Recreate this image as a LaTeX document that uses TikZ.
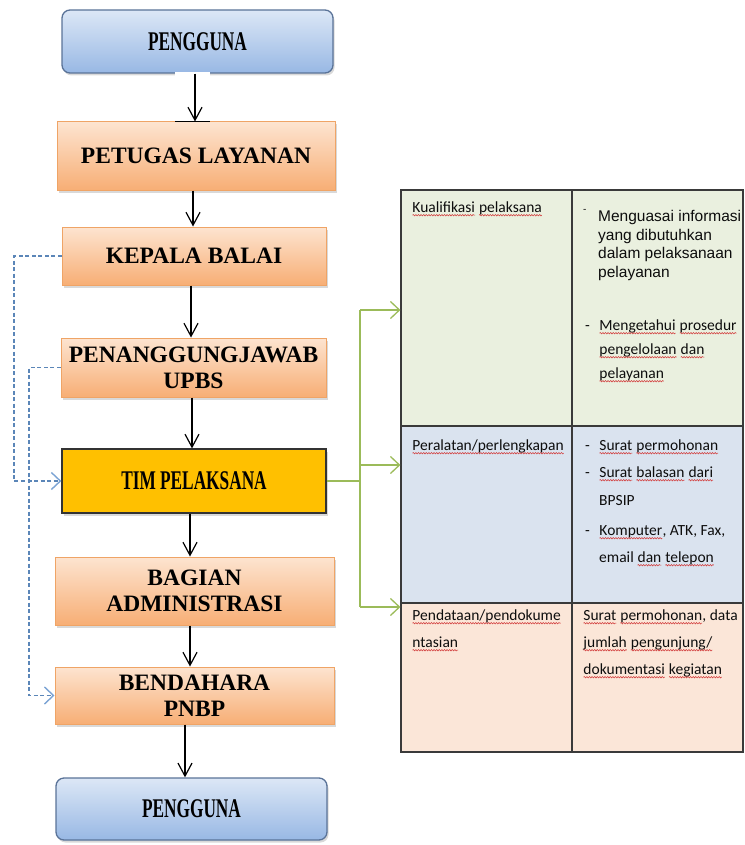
\documentclass[tikz,border=0pt]{standalone}
\usepackage{fontspec}
\setmainfont{Liberation Serif}
\newfontfamily\calib{Carlito}
\newfontfamily\arial{Liberation Sans}
\usepackage{graphicx}
\usetikzlibrary{arrows.meta,shadows,calc,decorations.pathmorphing}
\definecolor{orTop}{HTML}{FDE4D0}
\definecolor{orBot}{HTML}{F7AE75}
\definecolor{orLine}{HTML}{EFA466}
\definecolor{blTop}{HTML}{DCE7F6}
\definecolor{blBot}{HTML}{98B8E4}
\definecolor{blLine}{HTML}{5A7398}
\definecolor{goldfill}{HTML}{FFC000}
\definecolor{dashb}{HTML}{5B86B8}
\definecolor{dashtip}{HTML}{7BA3D4}
\definecolor{grn}{HTML}{9BBB59}
\definecolor{rowa}{HTML}{EAF0DF}
\definecolor{rowb}{HTML}{DAE3EF}
\definecolor{rowc}{HTML}{FBE6D8}
\definecolor{sqred}{HTML}{D23C3C}
\definecolor{tline}{HTML}{3A3A3A}
\newcommand\sq[1]{\tikz[baseline=(sqw.base)]{\node[anchor=base,inner sep=0pt,outer sep=0pt] (sqw) at (0,0) {#1};
  \draw[sqred, line width=0.55pt, decorate, decoration={snake, amplitude=0.7pt, segment length=2.6pt}]
   ([yshift=-3.2pt]sqw.base west) -- ([yshift=-3.2pt]sqw.base east);}}
\tikzset{
  flowbox/.style={inner sep=0pt, align=center, text=black,
    drop shadow={shadow xshift=1.5pt, shadow yshift=-2.5pt, opacity=0.3}},
  orbox/.style={flowbox, draw=orLine, line width=1pt, top color=orTop, bottom color=orBot,
    font=\bfseries\fontsize{23.5}{26}\selectfont},
  blbox/.style={flowbox, draw=blLine, line width=1.3pt, rounded corners=8pt,
    top color=blTop, bottom color=blBot, font=\bfseries\fontsize{27}{30}\selectfont},
  goldbox/.style={flowbox, draw=black!80, line width=1.2pt, fill=goldfill,
    font=\bfseries\fontsize{27}{30}\selectfont},
  arr/.style={draw=black, line width=1.2pt, -{Straight Barb[length=13pt,width=14pt,line width=1.2pt]}},
  dasharr/.style={draw=dashb, line width=1.4pt, dash pattern=on 4pt off 2.5pt,
    -{Straight Barb[length=9pt,width=17pt,line width=1.4pt,color=dashtip]}},
  gline/.style={draw=grn, line width=1.3pt},
  garr/.style={gline, -{Straight Barb[length=9pt,width=17pt,line width=1.3pt]}},
  cell/.style={draw=tline, line width=1.2pt, inner sep=0pt, minimum width=171pt},
  ctext/.style={anchor=base west, inner sep=0pt, text=black!95,
    font=\calib\fontsize{15.5}{18}\selectfont},
  atext/.style={anchor=base west, inner sep=0pt, text=black!95,
    font=\arial\fontsize{15.5}{18}\selectfont}
}
\begin{document}
\begin{tikzpicture}[x=1pt,y=-1pt]
\useasboundingbox (0,0) rectangle (744,845);
% flow boxes
\node[blbox, minimum width=271pt, minimum height=63pt] (p1) at (197.5,41.5) {\scalebox{0.64}[1]{PENGGUNA}};
\node[orbox, minimum width=278pt, minimum height=68pt] (pl) at (196,156) {PETUGAS LAYANAN};
\node[orbox, minimum width=264pt, minimum height=58pt] (kb) at (194,256) {KEPALA BALAI};
\node[orbox, minimum width=265pt, minimum height=59pt] (pj) at (193.5,367.5) {PENANGGUNGJAWAB\\UPBS};
\node[goldbox, minimum width=264pt, minimum height=64pt] (tim) at (194,481) {\scalebox{0.64}[1]{TIM PELAKSANA}};
\node[orbox, minimum width=279pt, minimum height=68pt] (ba) at (194.5,591) {BAGIAN\\ADMINISTRASI};
\node[orbox, minimum width=279pt, minimum height=57pt] (bp) at (194.5,695.5) {BENDAHARA\\PNBP};
\node[blbox, minimum width=271pt, minimum height=62pt] (p2) at (191.5,809) {\scalebox{0.64}[1]{PENGGUNA}};
% small details near first arrow
\fill[white] (175,72.5) rectangle (210,77);
\draw[black, line width=1pt] (175,121.5) -- (210,121.5);
% vertical arrows
\draw[arr] (p1.south -| 195,0) -- (pl.north -| 195,0);
\draw[arr] (pl.south -| 193,0) -- (kb.north -| 193,0);
\draw[arr] (kb.south -| 191,0) -- (pj.north -| 191,0);
\draw[arr] (pj.south -| 192,0) -- (tim.north -| 192,0);
\draw[arr] (tim.south -| 190,0) -- (ba.north -| 190,0);
\draw[arr] (ba.south -| 190,0) -- (bp.north -| 190,0);
\draw[arr] (bp.south -| 185,0) -- (p2.north -| 185,0);
% dashed connectors
\draw[dasharr] (kb.west) -- (14,256) |- (tim.west);
\draw[dasharr] (pj.west) -- (29,367.5) |- (bp.west);
% table
\node[cell, fill=rowa, minimum height=236pt] (c11) at (486.5,308) {};
\node[cell, fill=rowa, minimum height=236pt] (c12) at (657.5,308) {};
\node[cell, fill=rowb, minimum height=177pt] (c21) at (486.5,514.5) {};
\node[cell, fill=rowb, minimum height=177pt] (c22) at (657.5,514.5) {};
\node[cell, fill=rowc, minimum height=149pt] (c31) at (486.5,677.5) {};
\node[cell, fill=rowc, minimum height=149pt] (c32) at (657.5,677.5) {};
% green connectors
\coordinate (g1) at (360,310);
\coordinate (g2) at (360,465);
\coordinate (g3) at (360,607);
\draw[gline] (tim.east) -- (tim.east -| g1);
\draw[gline] (g1) -- (g3);
\draw[garr] (g1) -- (c11.west |- g1);
\draw[garr] (g2) -- (c21.west |- g2);
\draw[garr] (g3) -- (c31.west |- g3);
% row 1 texts
\node[ctext] (t1) at (412,212) {\sq{Kualifikasi} \sq{pelaksana}};
\node[atext, font=\arial\fontsize{10}{12}\selectfont] (t2) at (583,212) {-};
\node[atext] (t3) at (598,221) {Menguasai informasi};
\node[atext] (t4) at (598,240) {yang dibutuhkan};
\node[atext] (t5) at (598,258) {dalam pelaksanaan};
\node[atext] (t6) at (598,277) {pelayanan};
\node[ctext] (t7) at (585,330) {-};
\node[ctext] (t8) at (599,330) {\sq{Mengetahui} \sq{prosedur}};
\node[ctext] (t9) at (599,354) {\sq{pengelolaan} \sq{dan}};
\node[ctext] (t10) at (599,378) {\sq{pelayanan}};
% row 2 texts
\node[ctext] (t11) at (412,450) {\sq{Peralatan/perlengkapan}};
\node[ctext] (t12) at (585,450) {-};
\node[ctext] (t13) at (599,450) {\sq{Surat} \sq{permohonan}};
\node[ctext] (t14) at (585,477) {-};
\node[ctext] (t15) at (599,477) {\sq{Surat} \sq{balasan} \sq{dari}};
\node[ctext] (t16) at (599,505) {BPSIP};
\node[ctext] (t17) at (585,535) {-};
\node[ctext] (t18) at (599,535) {\sq{Komputer}, ATK, Fax,};
\node[ctext] (t19) at (599,562) {email \sq{dan} \sq{telepon}};
% row 3 texts
\node[ctext] (t20) at (412,620) {\sq{Pendataan/pendokume}};
\node[ctext] (t21) at (412,647) {\sq{ntasian}};
\node[ctext] (t22) at (583,620) {\sq{Surat} \sq{permohonan}, data};
\node[ctext] (t23) at (583,647) {\sq{jumlah} \sq{pengunjung/}};
\node[ctext] (t24) at (583,674) {\sq{dokumentasi} \sq{kegiatan}};
\end{tikzpicture}
\end{document}
